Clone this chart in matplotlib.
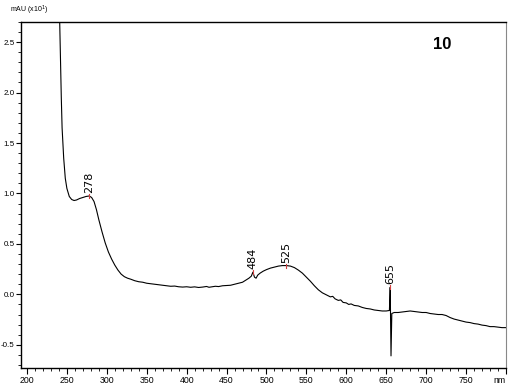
import matplotlib
matplotlib.use('Agg')
import matplotlib.pyplot as plt
from matplotlib.ticker import MultipleLocator

# Spectrum (wavelength in nm, absorbance in mAU x10)
wavelength = [240, 241, 242, 243, 244, 246, 248, 250, 253, 256, 259, 262, 266, 270, 274, 278,
              281, 284, 287, 290, 294, 298, 302, 306, 310, 314, 318, 322, 326, 330, 335, 340,
              345, 350, 355, 360, 365, 370, 375, 380, 385, 390, 395, 400, 405, 410, 415, 420,
              425, 428, 432, 436, 440, 445, 450, 455, 460, 465, 470, 474, 478, 481, 483, 485,
              487, 489, 492, 496, 500, 505, 510, 515, 520, 525, 530, 535, 540, 545, 550, 555,
              560, 565, 570, 575, 580, 583, 586, 590, 593, 596, 600, 603, 606, 610, 615, 620,
              625, 630, 635, 640, 645, 650, 654, 655, 656, 657, 660, 665, 670, 675, 680, 685,
              690, 695, 700, 705, 710, 715, 720, 725, 730, 735, 740, 745, 750, 755, 760, 765,
              770, 775, 780, 785, 790, 795, 800]
absorbance = [3.0, 2.7, 2.3, 1.95, 1.65, 1.35, 1.15, 1.05, 0.97, 0.94, 0.93, 0.935, 0.95, 0.96,
              0.97, 0.975, 0.96, 0.92, 0.84, 0.74, 0.62, 0.51, 0.42, 0.35, 0.29, 0.24, 0.20,
              0.175, 0.16, 0.15, 0.135, 0.125, 0.12, 0.11, 0.105, 0.10, 0.095, 0.09, 0.085, 0.08,
              0.082, 0.075, 0.072, 0.075, 0.07, 0.074, 0.068, 0.072, 0.078, 0.07, 0.075, 0.08,
              0.077, 0.085, 0.088, 0.09, 0.10, 0.11, 0.12, 0.14, 0.16, 0.18, 0.22, 0.17, 0.16,
              0.19, 0.21, 0.23, 0.245, 0.26, 0.27, 0.28, 0.285, 0.285, 0.28, 0.265, 0.24, 0.21,
              0.17, 0.13, 0.085, 0.045, 0.015, -0.005, -0.025, -0.02, -0.045, -0.06, -0.055,
              -0.08, -0.085, -0.10, -0.095, -0.11, -0.115, -0.13, -0.14, -0.145, -0.155, -0.16,
              -0.165, -0.165, -0.16, 0.07, -0.61, -0.19, -0.18, -0.18, -0.175, -0.17, -0.165,
              -0.17, -0.175, -0.18, -0.18, -0.19, -0.195, -0.20, -0.20, -0.21, -0.23, -0.245,
              -0.255, -0.265, -0.275, -0.28, -0.29, -0.295, -0.305, -0.31, -0.32, -0.32, -0.325,
              -0.33, -0.33]

# Annotated peak maxima
peak_nm = [278, 483, 525, 655]
peak_labels = ['278', '484', '525', '655']

x_ticks = [200, 250, 300, 350, 400, 450, 500, 550, 600, 650, 700, 750, 800]
x_tick_labels = ['200', '250', '300', '350', '400', '450', '500', '550', '600', '650',
                 '700', '750', 'nm']
y_ticks = [-0.5, 0.0, 0.5, 1.0, 1.5, 2.0, 2.5]

tick_font = 'Liberation Sans'

fig = plt.figure(figsize=(5.08, 3.85), dpi=100)
ax = fig.add_axes([0.0413, 0.0442, 0.9547, 0.8988])

ax.plot(wavelength, absorbance, color='black', linewidth=0.8)

for nm, lab in zip(peak_nm, peak_labels):
    val = absorbance[wavelength.index(nm)]
    ax.plot([nm, nm], [val - 0.02, val + 0.02], color='#d04040', linewidth=0.8)
    ax.text(nm, val + 0.03, lab, rotation=90, ha='center', va='bottom',
            fontsize=8, family='DejaVu Sans')

ax.text(0.868, 0.935, '10', transform=ax.transAxes, ha='center', va='center',
        fontsize=12, fontweight='bold', family='Liberation Sans')

ax.set_xlim(192.5, 800)
ax.set_ylim(-0.73, 2.70)

ax.set_xticks(x_ticks)
ax.set_xticklabels(x_tick_labels)
ax.xaxis.set_minor_locator(MultipleLocator(10))
ax.set_yticks(y_ticks)
ax.set_yticklabels([f'{v:.1f}' for v in y_ticks])
ax.yaxis.set_minor_locator(MultipleLocator(0.1))

ax.tick_params(axis='x', which='major', length=4, width=0.8, direction='out',
               labelsize=6.3, pad=1.5)
ax.tick_params(axis='y', which='major', length=3.5, width=0.8, direction='out',
               labelsize=5.8, pad=1)
ax.tick_params(axis='both', which='minor', length=2.5, width=0.6, direction='out')
for lbl in ax.get_xticklabels() + ax.get_yticklabels():
    lbl.set_family(tick_font)
ax.get_xticklabels()[-1].set_horizontalalignment('right')

for side in ['left', 'bottom', 'top']:
    ax.spines[side].set_linewidth(1.0)
ax.spines['right'].set_color('#888888')
ax.spines['right'].set_linewidth(0.8)

fig.text(0.058, 0.955, 'mAU (x10$^{1}$)', ha='center', va='bottom',
         fontsize=5, family=tick_font)

fig.savefig('out.png', dpi=100)
